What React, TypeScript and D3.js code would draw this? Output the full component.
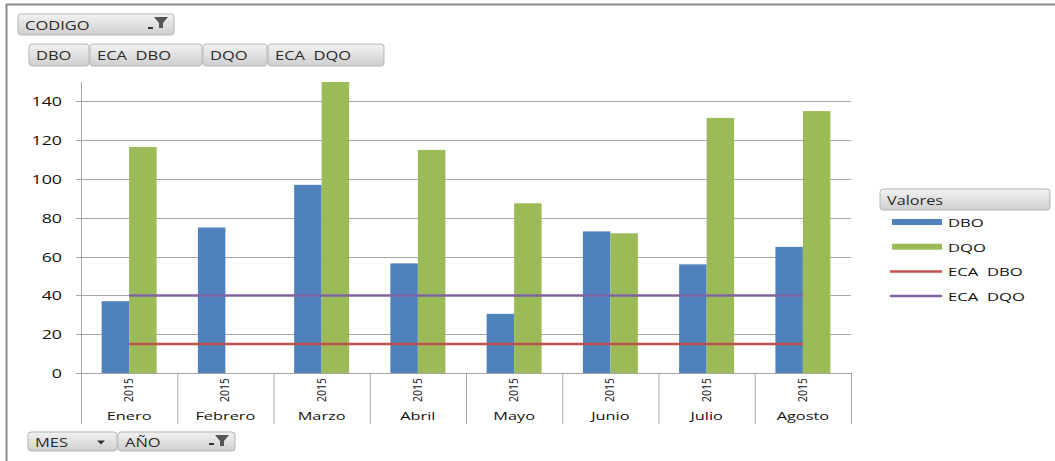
import React from "react";
import * as d3 from "d3";

const months = ["Enero", "Febrero", "Marzo", "Abril", "Mayo", "Junio", "Julio", "Agosto"];
const years = ["2015", "2015", "2015", "2015", "2015", "2015", "2015", "2015"];
const dbo = [37, 75, 97, 56.5, 30.5, 73, 56, 65];
const dqo: (number | null)[] = [116.5, null, 150, 115, 87.5, 72, 131.5, 135];
const ecaDbo = [15, 15, 15, 15, 15, 15, 15, 15];
const ecaDqo = [40, 40, 40, 40, 40, 40, 40, 40];
const yTicks = [0, 20, 40, 60, 80, 100, 120, 140];
const seriesButtons = ["DBO", "ECA  DBO", "DQO", "ECA  DQO"];
const legendItems = [
  { name: "DBO", color: "#4F81BD", kind: "bar" },
  { name: "DQO", color: "#9BBB59", kind: "bar" },
  { name: "ECA  DBO", color: "#C0504D", kind: "line" },
  { name: "ECA  DQO", color: "#8064A2", kind: "line" },
];

const FONT = "'Open Sans', 'DejaVu Sans', sans-serif";
const SX = 1.38;

function SText({ x, y, size = 12, anchor = "start", fill = "#111", children, sx = SX }: any) {
  return (
    <text
      transform={`translate(${x},${y}) scale(${sx},1)`}
      fontSize={size}
      fontFamily={FONT}
      textAnchor={anchor}
      fill={fill}
      style={{ whiteSpace: "pre" }}
    >
      {children}
    </text>
  );
}

function Button({ x, y, w, h, label, filter = false, drop = false, size = 12.5, sx = 1.32 }: any) {
  return (
    <g>
      <rect x={x} y={y} width={w} height={h} rx={3} fill="url(#btnGrad)" stroke="#b5b5b5" />
      <SText x={x + 7} y={y + h / 2 + 5} size={size} fill="#2a2a2a" sx={sx}>{label}</SText>
      {filter && (
        <g>
          <path d={`M${x + w - 20},${y + 3} L${x + w - 6},${y + 3} L${x + w - 11},${y + 9} L${x + w - 11},${y + 14} L${x + w - 15},${y + 14} L${x + w - 15},${y + 9} Z`} fill="#555" />
          <rect x={x + w - 26} y={y + h - 8} width={5} height={2} fill="#333" />
        </g>
      )}
      {drop && <path d={`M${x + w - 20},${y + h / 2 - 1} l8,0 l-4,4 z`} fill="#333" />}
    </g>
  );
}

export default function App() {
  const W = 1055, H = 461;
  const left = 81, right = 851, top = 82, bottom = 373;
  const x0 = d3.scaleBand<number>().domain(d3.range(months.length)).range([left, right]).paddingInner(0).paddingOuter(0);
  const bw = x0.bandwidth();
  const barW = bw / 3.5;
  const y = d3.scaleLinear().domain([0, 150]).range([bottom, top]);
  const cx = (i: number) => (x0(i) as number) + bw / 2;
  const lineGen = d3.line<number>().x((_, i) => cx(i)).y((d) => y(d));

  const btnX = [29, 90, 203, 268, 385];

  return (
    <svg width={W} height={H} style={{ position: "absolute", left: 0, top: 0, background: "#fff" }}>
      <defs>
        <linearGradient id="btnGrad" x1="0" y1="0" x2="0" y2="1">
          <stop offset="0" stopColor="#f2f2f2" />
          <stop offset="1" stopColor="#cfcfcf" />
        </linearGradient>
      </defs>
      <rect x={0} y={0} width={W} height={H} fill="#fff" />
      {/* outer border (top and left) */}
      <line x1={6.5} y1={4} x2={6.5} y2={H} stroke="#8a8a8a" strokeWidth={2} />
      <line x1={6} y1={4.5} x2={W} y2={4.5} stroke="#8a8a8a" strokeWidth={2} />

      {/* gridlines */}
      {yTicks.map((t) => (
        <line key={t} x1={left - 5} x2={right} y1={Math.round(y(t)) + 0.5} y2={Math.round(y(t)) + 0.5} stroke="#a6a6a6" />
      ))}
      {yTicks.map((t) => (
        <SText key={"l" + t} x={62} y={y(t) + 5} size={12.5} anchor="end" sx={1.42}>{t}</SText>
      ))}
      {/* y axis */}
      <line x1={left + 0.5} x2={left + 0.5} y1={top} y2={424} stroke="#a6a6a6" />

      {/* bars */}
      {dbo.map((v, i) => (
        <rect key={"b" + i} x={cx(i) - barW} y={y(v)} width={barW} height={bottom - y(v)} fill="#4F81BD" />
      ))}
      {dqo.map((v, i) =>
        v == null ? null : (
          <rect key={"q" + i} x={cx(i)} y={y(v)} width={barW} height={bottom - y(v)} fill="#9BBB59" />
        )
      )}

      {/* lines */}
      <path d={lineGen(ecaDbo) || ""} fill="none" stroke="#C0504D" strokeWidth={2.5} />
      <path d={lineGen(ecaDqo) || ""} fill="none" stroke="#8064A2" strokeWidth={2.5} />

      {/* x axis multi-level */}
      {months.map((_, i) => (
        <line key={"s" + i} x1={(x0(i) as number) + bw + 0.5} x2={(x0(i) as number) + bw + 0.5} y1={bottom} y2={424} stroke="#a6a6a6" />
      ))}
      {years.map((yr, i) => (
        <text key={"y" + i} transform={`translate(${cx(i) + 4},${402}) rotate(-90) scale(0.95,1.1)`} fontSize={11} fontFamily={FONT} fill="#111">
          {yr}
        </text>
      ))}
      {months.map((m, i) => (
        <SText key={"m" + i} x={cx(i)} y={420} size={11.5} anchor="middle" sx={1.42}>{m}</SText>
      ))}

      {/* filter buttons */}
      <Button x={18} y={14} w={156} h={21} label="CODIGO" filter />
      {seriesButtons.map((s, i) => (
        <Button key={s} x={btnX[i]} y={44} w={btnX[i + 1] - btnX[i] - 1} h={22} label={s} />
      ))}
      <Button x={28} y={432} w={89} h={19} label="MES" drop />
      <Button x={118} y={432} w={117} h={19} label="AÑO" filter />

      {/* legend */}
      <Button x={880} y={189} w={170} h={21} label="Valores" size={12.5} sx={1.3} />
      {legendItems.map((it, i) => {
        const ly = 222 + i * 24.7;
        return (
          <g key={it.name}>
            {it.kind === "bar" ? (
              <rect x={892} y={ly - 3} width={50} height={6} fill={it.color} />
            ) : (
              <line x1={890} x2={942} y1={ly} y2={ly} stroke={it.color} strokeWidth={2.5} />
            )}
            <SText x={948} y={ly + 5} size={11.5} sx={1.45}>{it.name}</SText>
          </g>
        );
      })}
    </svg>
  );
}
